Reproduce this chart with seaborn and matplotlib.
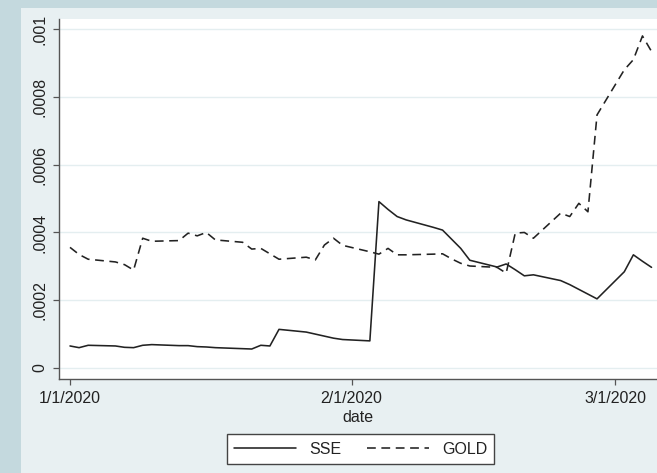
import matplotlib
matplotlib.use("Agg")
import matplotlib.pyplot as plt
import matplotlib.dates as mdates
from matplotlib.patches import Rectangle
from matplotlib.lines import Line2D
import numpy as np
import pandas as pd
import seaborn as sns

# Trading days, 1 Jan 2020 - 5 Mar 2020
dates = pd.bdate_range("2020-01-01", "2020-03-05")

sse = [
    6.5e-5, 6.0e-5, 6.7e-5,
    6.5e-5, 6.1e-5, 6.0e-5, 6.7e-5, 6.9e-5,
    6.6e-5, 6.6e-5, 6.3e-5, 6.2e-5, 6.0e-5,
    5.7e-5, 5.6e-5, 6.7e-5, 6.5e-5, 11.4e-5,
    10.6e-5, 10.0e-5, 9.4e-5, 8.8e-5, 8.4e-5,
    8.0e-5, 49.1e-5, 46.8e-5, 44.7e-5, 43.7e-5,
    41.5e-5, 40.7e-5, 38.0e-5, 35.3e-5, 31.8e-5,
    29.8e-5, 30.7e-5, 29.0e-5, 27.2e-5, 27.5e-5,
    25.8e-5, 24.6e-5, 23.2e-5, 21.8e-5, 20.4e-5,
    28.4e-5, 33.4e-5, 31.5e-5, 29.7e-5,
]

gold = [
    3.56e-4, 3.35e-4, 3.21e-4,
    3.13e-4, 3.05e-4, 2.89e-4, 3.83e-4, 3.74e-4,
    3.76e-4, 3.98e-4, 3.90e-4, 4.00e-4, 3.78e-4,
    3.71e-4, 3.51e-4, 3.53e-4, 3.37e-4, 3.21e-4,
    3.27e-4, 3.19e-4, 3.63e-4, 3.83e-4, 3.62e-4,
    3.43e-4, 3.36e-4, 3.53e-4, 3.34e-4, 3.34e-4,
    3.36e-4, 3.37e-4, 3.22e-4, 3.09e-4, 3.01e-4,
    2.97e-4, 2.80e-4, 3.98e-4, 4.00e-4, 3.83e-4,
    4.57e-4, 4.47e-4, 4.86e-4, 4.61e-4, 7.47e-4,
    8.80e-4, 9.10e-4, 9.80e-4, 9.34e-4,
]

y_ticks = [0, 0.0002, 0.0004, 0.0006, 0.0008, 0.001]
y_tick_labels = ["0", ".0002", ".0004", ".0006", ".0008", ".001"]
x_ticks = ["2020-01-01", "2020-02-01", "2020-03-01"]
x_tick_labels = ["1/1/2020", "2/1/2020", "3/1/2020"]

df = pd.DataFrame({"date": dates, "SSE": sse, "GOLD": gold})

sns.set_theme(style="white")
plt.rcParams["font.family"] = ["Liberation Sans", "DejaVu Sans"]

W, H = 657, 473
fig = plt.figure(figsize=(W / 100, H / 100), dpi=100)
fig.patch.set_facecolor("#c4d9de")
# inner graph region
fig.patches.append(Rectangle((21 / W, 0), 1 - 21 / W, 1 - 8 / H,
                             transform=fig.transFigure, facecolor="#e8f0f2",
                             edgecolor="none", zorder=-10))

ax_l, ax_r, ax_t, ax_b = 59, 657, 19, 379
ax = fig.add_axes([ax_l / W, 1 - ax_b / H, (ax_r - ax_l) / W, (ax_b - ax_t) / H])
ax.set_zorder(1)
ax.set_facecolor("white")

line_color = "#222222"
sns.lineplot(data=df, x="date", y="SSE", ax=ax, color=line_color, lw=1.15,
             legend=False)
sns.lineplot(data=df, x="date", y="GOLD", ax=ax, color=line_color, lw=1.15,
             legend=False)
ax.lines[1].set_dashes((5.5, 3.5))

t0 = pd.Timestamp("2020-01-01")
x0 = mdates.date2num(t0)
ax.set_xlim(x0 - 1.21, x0 + 64.6)
ax.set_ylim(-0.0000325, 0.00103)

ax.set_yticks(y_ticks)
ax.set_yticklabels(y_tick_labels, rotation=90, va="center")
ax.set_xticks([mdates.date2num(pd.Timestamp(d)) for d in x_ticks])
ax.set_xticklabels(x_tick_labels)

for y in y_ticks:
    ax.axhline(y, color="#e4eef0", lw=1.0, zorder=0)

for s in ["top", "right"]:
    ax.spines[s].set_visible(False)
for s in ["left", "bottom"]:
    ax.spines[s].set_color("#555555")
    ax.spines[s].set_linewidth(1.0)

ax.tick_params(axis="both", which="major", direction="out", length=4.5,
               width=0.9, color="#555555", labelsize=11.5, labelcolor="#222222",
               left=True, bottom=True)
ax.tick_params(axis="y", pad=4)
ax.tick_params(axis="x", pad=4)

ax.set_ylabel("")
ax.set_xlabel("date", fontsize=11.5, color="#222222", labelpad=3)

handles = [
    Line2D([], [], color=line_color, lw=1.15),
    Line2D([], [], color=line_color, lw=1.15, dashes=(5.5, 3.5)),
]
leg = fig.legend(handles, ["SSE", "GOLD"], ncol=2, loc="center",
                 bbox_to_anchor=(360.5 / W, 1 - 449 / H), frameon=True,
                 fancybox=False, edgecolor="#444444", facecolor="white",
                 fontsize=11.5, handlelength=3.9, handletextpad=0.8,
                 columnspacing=1.6, borderpad=0.45, framealpha=1)
leg.get_frame().set_linewidth(1.0)
for t in leg.get_texts():
    t.set_color("#222222")

fig.savefig("out.png", dpi=100, facecolor=fig.get_facecolor())
